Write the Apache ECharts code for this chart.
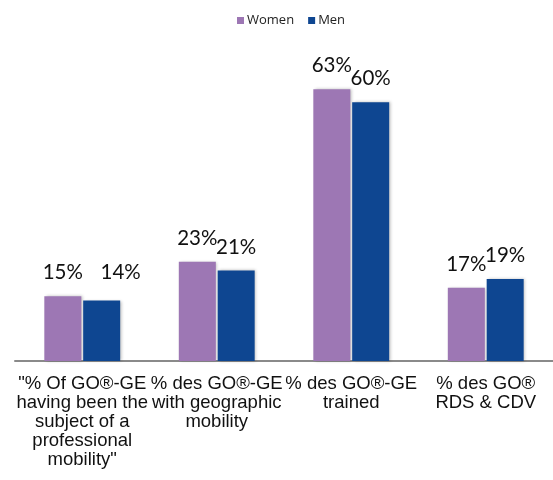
<!DOCTYPE html>
<html>
<head>
<meta charset="utf-8">
<script src="https://cdn.jsdelivr.net/npm/echarts@6/dist/echarts.min.js"></script>
<style>
  html, body { margin: 0; padding: 0; background: #fff; }
  #chart { width: 553px; height: 480px; }
</style>
</head>
<body>
<div id="chart"></div>
<script>
  // categories (line breaks as in the original chart)
  var categories = [
    '"% Of GO®-GE\nhaving been the\nsubject of a\nprofessional\nmobility"',
    '% des GO®-GE\nwith geographic\nmobility',
    '% des GO®-GE\ntrained',
    '% des GO®\nRDS & CDV'
  ]
  var women = [15, 23, 63, 17]
  var men = [14, 21, 60, 19]

  var myChart = echarts.init(document.getElementById('chart'))

  var barLabel = {
    show: true,
    position: 'top',
    distance: 13,
    fontFamily: 'Lato',
    fontSize: 20.5,
    color: '#111',
    formatter: function (p) { return p.value + '%' }
  }
  var shadow = {
    shadowColor: 'rgba(0,0,0,0.25)',
    shadowBlur: 3,
    shadowOffsetX: 1.5
  }

  var option = {
    backgroundColor: '#fff',
    animation: false,
    legend: {
      data: ['Women', 'Men'],
      left: 232,
      top: 9,
      icon: 'rect',
      itemWidth: 7,
      itemHeight: 7,
      itemGap: 14,
      textStyle: {
        fontFamily: 'Open Sans',
        fontSize: 13,
        color: '#222',
        padding: [0, 0, 0, -2]
      }
    },
    grid: {
      left: 15,
      width: 540,
      top: 59,
      height: 302
    },
    xAxis: {
      type: 'category',
      data: categories,
      axisLine: { lineStyle: { color: '#8a8a8a', width: 2 } },
      axisTick: { show: false },
      axisLabel: {
        interval: 0,
        margin: 13,
        fontFamily: 'Liberation Sans',
        fontSize: 18.5,
        lineHeight: 19,
        color: '#111',
        align: 'center'
      }
    },
    yAxis: {
      type: 'value',
      min: 0,
      max: 70,
      show: false,
      splitLine: { show: false }
    },
    series: [
      {
        name: 'Women',
        type: 'bar',
        barWidth: 37,
        barGap: '5%',
        itemStyle: Object.assign({ color: '#9d77b4' }, shadow),
        label: barLabel,
        data: women
      },
      {
        name: 'Men',
        type: 'bar',
        barWidth: 37,
        barGap: '5%',
        itemStyle: Object.assign({ color: '#0e4691' }, shadow),
        label: barLabel,
        data: men.map(function (v, i) {
          // the 14% label sits off to the right in the original
          if (i === 0) return { value: v, label: { offset: [19, -5] } }
          return v
        })
      }
    ]
  }

  myChart.setOption(option)
</script>
</body>
</html>
